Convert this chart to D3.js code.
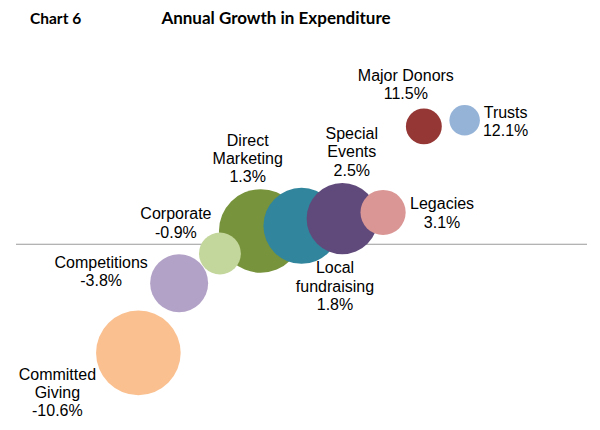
<!DOCTYPE html>
<html>
<head>
<meta charset="utf-8">
<script src="https://cdn.jsdelivr.net/npm/d3@7"></script>
<style>
  body { margin: 0; background: #fff; }
  svg text { font-family: "Liberation Sans", Arial, sans-serif; fill: #000; }
</style>
</head>
<body>
<div class="container"></div>
<script>
// chart data
var categories = ["Committed Giving", "Competitions", "Corporate", "Direct Marketing",
  "Local fundraising", "Special Events", "Legacies", "Major Donors", "Trusts"];
var growth = [-10.6, -3.8, -0.9, 1.3, 1.8, 2.5, 3.1, 11.5, 12.1];   // % annual growth
var spend = [100, 47, 24.5, 97.5, 81, 71, 28.5, 18, 13];           // relative expenditure (bubble size)
var labelLines = [["Committed", "Giving"], ["Competitions"], ["Corporate"], ["Direct", "Marketing"],
  ["Local", "fundraising"], ["Special", "Events"], ["Legacies"], ["Major Donors"], ["Trusts"]];
var colors = ["#FAC090", "#B3A2C7", "#C3D69B", "#77933C", "#31859C", "#604A7B", "#D99694", "#953735", "#95B3D7"];

// where each label sits relative to its bubble (px)
var labelOffset = [[-81, 27], [-78, -15.5], [-44, -34], [-13, -85], [33.5, 47.5],
  [9.5, -79.5], [59, -3], [-18, -45.7], [41, -2]];

var settings = { w: 600, h: 430, lineH: 18.2 };

var svg = d3.select(".container").append("svg")
  .attr("width", settings.w)
  .attr("height", settings.h);

var x = d3.scaleLinear().domain([-2, 12]).range([16, 587]);
var y = d3.scaleLinear().domain([-15, 15]).range([398, 90.5]);
var r = d3.scaleSqrt().domain([0, d3.max(spend)]).range([0, 42.3]);

//titles
svg.append("text").attr("x", 30).attr("y", 24)
  .style("font-family", "Lato, 'Open Sans', sans-serif")
  .style("font-weight", "bold").style("font-size", "15.5px")
  .text("Chart 6");
svg.append("text").attr("x", 276).attr("y", 24)
  .attr("text-anchor", "middle")
  .style("font-family", "Lato, 'Open Sans', sans-serif")
  .style("font-weight", "bold").style("font-size", "17px")
  .text("Annual Growth in Expenditure");

//zero line
svg.append("line")
  .attr("x1", x(-2)).attr("x2", x(12))
  .attr("y1", y(0)).attr("y2", y(0))
  .style("stroke", "#9a9a9a").style("stroke-width", 1);

var rows = categories.map(function (c, i) {
  return { name: c, idx: i + 1, g: growth[i], s: spend[i], color: colors[i], lines: labelLines[i], off: labelOffset[i] };
});

//bigger bubbles drawn behind smaller ones
var order = rows.slice().sort(function (a, b) { return b.s - a.s; });

svg.append("g").selectAll("circle")
  .data(order)
  .enter()
  .append("circle")
  .attr("cx", function (d) { return x(d.idx); })
  .attr("cy", function (d) { return y(d.g); })
  .attr("r", function (d) { return r(d.s); })
  .style("fill", function (d) { return d.color; });

var labels = svg.append("g").selectAll("text")
  .data(rows)
  .enter()
  .append("text")
  .attr("text-anchor", "middle")
  .style("font-size", "16px");

labels.each(function (d) {
  var t = d3.select(this);
  var lx = x(d.idx) + d.off[0];
  var ly = y(d.g) + d.off[1];
  // plain hyphen for negatives, like the original
  var all = d.lines.concat([d.g.toFixed(1) + "%"]);
  all.forEach(function (s, k) {
    t.append("tspan").attr("x", lx).attr("y", ly + k * settings.lineH).text(s);
  });
});
</script>
</body>
</html>
